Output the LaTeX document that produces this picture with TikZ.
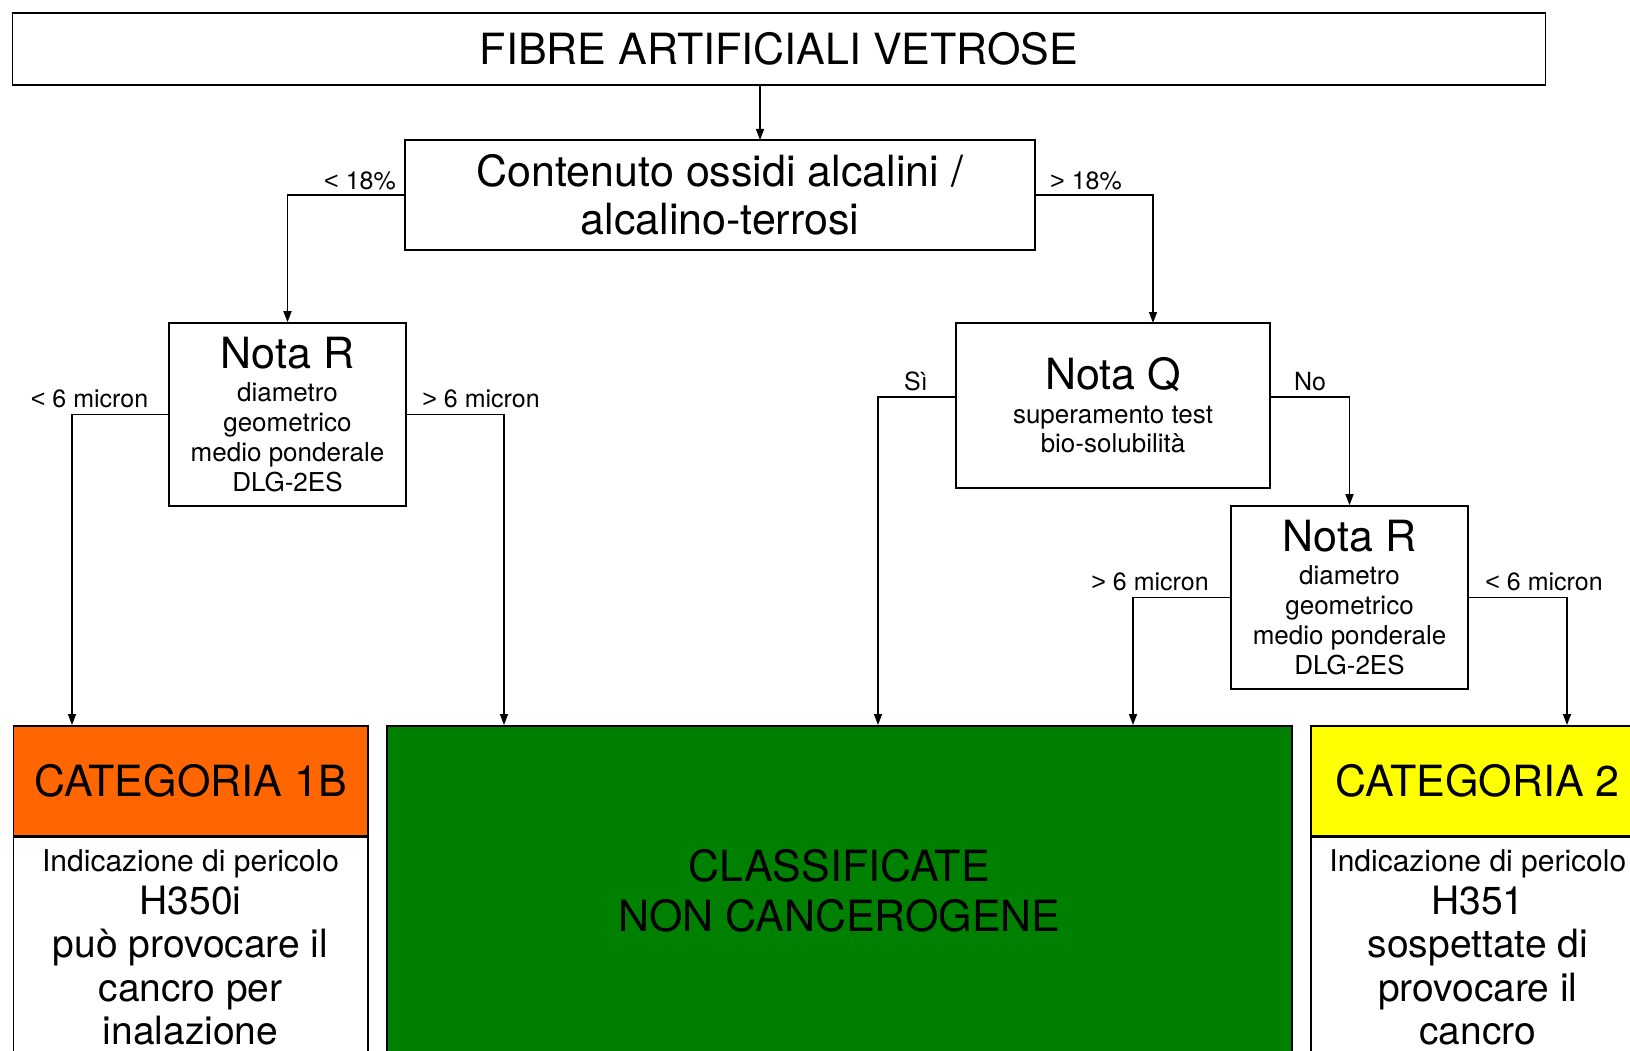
\documentclass[tikz,border=0pt]{standalone}
\usepackage{fontspec}
\setmainfont{TeX Gyre Heros}
\newfontfamily\libfont{Liberation Sans}
\usetikzlibrary{arrows.meta}
\newcommand\fsz[2]{\fontsize{#1}{#2}\selectfont}
\newcommand\lessthan{{\libfont <}}
\newcommand\morethan{{\libfont >}}
\definecolor{orangeC}{RGB}{255,102,0}
\definecolor{greenC}{RGB}{0,128,0}
\definecolor{yellowC}{RGB}{255,255,0}
\begin{document}
\begin{tikzpicture}[x=1pt,y=-1pt,
  box/.style={draw, line width=1.6pt, inner sep=0pt, align=center},
  arr/.style={-{Triangle[length=11pt,width=8pt]}, line width=1.5pt},
  lbl/.style={font=\fsz{25}{30}, inner sep=0pt},
  noteR/.style={box, minimum width=237pt, minimum height=183pt, font=\fsz{26}{30}}]
\useasboundingbox (0,0) rectangle (1630,1051);
\clip (0,0) rectangle (1630,1051);
\fill[white] (0,0) rectangle (1630,1051);

\node[box, minimum width=1533pt, minimum height=72.5pt, font=\fsz{43}{48}] (top) at (779,49) {FIBRE ARTIFICIALI VETROSE};
\node[box, minimum width=630pt, minimum height=110pt, font=\fsz{43}{47.5}] (cont) at (720,195) {Contenuto ossidi alcalini /\\alcalino-terrosi};

\node[noteR] (nr1) at (287.5,414.5) {{\fsz{43}{43}Nota R}\\[3pt]diametro\\geometrico\\medio ponderale\\DLG-2ES};
\node[box, minimum width=314pt, minimum height=165pt, font=\fsz{26}{29}] (nq) at (1113,405.5) {{\fsz{43}{43}Nota Q}\\[5pt]superamento test\\bio-solubilità};
\node[noteR] (nr2) at (1349.5,597.5) {{\fsz{43}{43}Nota R}\\[3pt]diametro\\geometrico\\medio ponderale\\DLG-2ES};

% bottom boxes
\node[box, fill=orangeC, minimum width=354.5pt, minimum height=110pt, anchor=north west, font=\fsz{43}{43}] (c1h) at (12.5,725) {CATEGORIA 1B};
\node[box, fill=white, minimum width=354.5pt, minimum height=220pt, anchor=north, font=\fsz{39}{43.5}] (c1b) at (c1h.south) {{\fsz{30}{30}Indicazione di pericolo}\\[-0.5pt]H350i\\può provocare il\\cancro per\\inalazione};
\node[box, fill=greenC, minimum width=905pt, minimum height=330pt, anchor=north west, font=\fsz{43}{50}] (nc) at (386,725) {CLASSIFICATE\\NON CANCEROGENE};
\node[box, fill=yellowC, minimum width=334pt, minimum height=110pt, anchor=north west, font=\fsz{43}{43}] (c2h) at (1310,725) {CATEGORIA 2};
\node[box, fill=white, minimum width=334pt, minimum height=220pt, anchor=north, font=\fsz{39}{43.5}] (c2b) at (c2h.south) {{\fsz{30}{30}Indicazione di pericolo}\\[-0.5pt]H351\\sospettate di\\provocare il\\cancro};

% labels
\node[lbl] (l1) at (360,181) {\lessthan\ 18\%};
\node[lbl] (l2) at (1086,181) {\morethan\ 18\%};
\node[lbl] (l3) at (89.5,399) {\lessthan\ 6 micron};
\node[lbl] (l4) at (481,399) {\morethan\ 6 micron};
\node[lbl] (l5) at (916,381.5) {Sì};
\node[lbl] (l6) at (1310,381.5) {No};
\node[lbl] (l7) at (1150,582) {\morethan\ 6 micron};
\node[lbl] (l8) at (1544,582) {\lessthan\ 6 micron};

% connectors
\coordinate (topin) at (760,140);
\coordinate (qin) at (1153,323);
\coordinate (in1) at (72,725);
\coordinate (in2) at (504,725);
\coordinate (in3) at (878,725);
\coordinate (in4) at (1133,725);
\coordinate (in5) at (1567,725);
\draw[arr] (topin |- top.south) -- (topin);
\draw[arr] (cont.west) -| (nr1.north);
\draw[arr] (cont.east) -| (qin);
\draw[arr] (nr1.west) -| (in1);
\draw[arr] (nr1.east) -| (in2);
\draw[arr] ([yshift=8.5pt]nq.west) -| (in3);
\draw[arr] ([yshift=8.5pt]nq.east) -| (nr2.north);
\draw[arr] (nr2.west) -| (in4);
\draw[arr] (nr2.east) -| (in5);
\end{tikzpicture}
\end{document}
